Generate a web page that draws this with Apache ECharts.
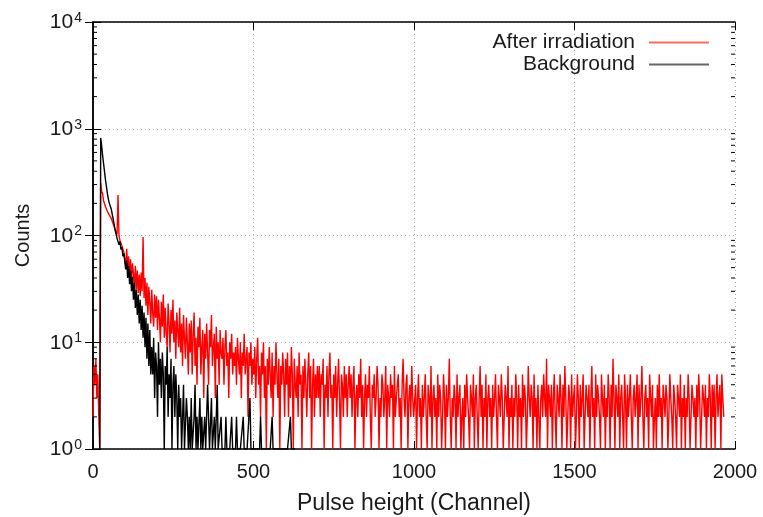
<!DOCTYPE html>
<html>
<head>
<meta charset="utf-8">
<script src="https://cdn.jsdelivr.net/npm/echarts@6/dist/echarts.min.js"></script>
<style>
html,body{margin:0;padding:0;background:#fff;}
#chart{width:763px;height:517px;}
</style>
</head>
<body>
<div id="chart"></div>
<script>
// ---- data (counts per channel, sampled every CHANNEL_STEP channels) ----
const CHANNEL_STEP = 3;
const seriesNames = ['After irradiation', 'Background'];
const xTicks = [0, 500, 1000, 1500, 2000];
const yDecades = [1, 10, 100, 1000, 10000];

const afterCounts = [
2,6,4,7,3,5,2,1,
310,258,246,212,204,186,184,168,166,155,152,144,140,128,124,114,112,102,240,99,90,88,80,78,70,
70,52,75,48,64,42,60,38,55,44,33,52,31,47,29,43,27,45,30,97,26,40,22,36,18,33,24,15,31,19,14,28,17,
27,13,25,17,10,24,14,28,11,21,12,9,23,15,8,20,12,25,10,16,7,19,13,9,21,8,15,6,18,11,7,17,10,5,15,
8,16,5,12,19,6,11,4,14,9,17,5,9,13,3,12,7,15,8,4,13,9,18,6,9,12,3,14,7,10,4,13,8,
7,11,4,9,13,6,8,3,10,7,12,5,8,6,9,4,11,7,5,10,3,8,6,12,5,7,9,2,8,6,10,4,7,
5,9,3,7,11,4,6,2,8,5,10,3,6,1,7,4,9,5,3,8,2,6,4,10,5,3,7,1,6,4,8,5,2,7,
4,8,2,6,3,9,5,1,7,4,3,6,2,8,4,5,1,6,3,7,4,2,5,8,3,6,1,4,7,2,5,3,6,
3,6,2,5,4,7,1,4,3,6,2,5,8,3,4,1,5,3,6,2,4,7,3,1,5,4,2,6,3,5,2,4,6,
3,5,2,4,6,1,3,4,2,5,3,7,2,4,1,3,5,2,4,3,6,2,1,4,3,5,2,3,6,4,1,3,2,5,4,2,3,6,1,4,
3,2,5,3,4,1,6,2,3,4,5,2,3,1,4,7,3,2,4,5,1,3,4,2,6,3,2,
2,4,1,3,5,2,3,1,4,2, 3,5,2,1,4,3,2,6,1,3, 4,2,3,1,5,2,4,3,1,2, 5,3,1,4,2,3,7,2,1,3,
2,4,3,1,5,2,3,4,1,2, 3,1,4,2,5,3,2,1,4,3, 2,5,1,3,4,2,1,3,6,2, 4,1,3,2,5,1,3,4,2,3,
1,4,2,3,5,2,1,4,3,2, 5,3,1,2,4,3,2,6,1,3, 2,4,1,3,2,5,3,1,4,2, 3,1,5,2,4,3,1,2,6,3,
2,4,3,1,5,2,3,1,4,2, 1,3,4,2,5,3,2,7,1,4, 3,2,4,1,3,5,2,1,4,3, 2,5,3,1,4,2,6,3,1,2,
4,3,1,5,2,3,4,1,2,5, 3,1,4,2,3,5,1,2,4,3, 2,4,1,3,6,2,3,1,5,2, 4,3,2,1,5,3,2,4,1,3,
2,5,3,1,4,2,7,3,1,4, 3,2,5,1,3,4,2,1,5,3, 1,4,2,3,5,2,1,3,4,2, 3,5,1,4,2,3,6,2,1,3,
4,2,3,1,5,3,2,4,1,2, 3,1,4,2,5,2,3,1,4,3, 2,4,3,1,2,5,3,2,1,4, 3,2,1,4,3,2,5,1,3,2,
4,1,3,2,5,3,1,2,4,3, 2,3,1,4,2,5,3,1,2,4, 3,2,4,1,3,2,5,3,1,4, 2,4,1,3,5,2,3,4,1,5,
3,2
];

const backgroundCounts = [
null,null,null,null,null,null,null,1,
820,690,560,470,395,330,285,245,218,200,188,176,170,142,140,112,114,94,98,82,88,74,78,64,68,
66,48,58,40,52,35,47,30,41,25,36,21,31,18,28,15,25,13,22,11,19,9,17,7,15,6,13,5,
9,5,11,3,8,6,2,10,4,7,3,8,5,1,6,4,9,2,5,3,7,1,4,6,2,5,3,1,4,2,
3,1,2,4,1,1,3,2,1,2,1,3,1,1,2,4,1,2,1,1,3,1,2,1,1,2,1,1,4,2,1,1,3,1,1,2,1,1,4,1,
1,1,2,1,1,1,1,2,1,1, 1,1,1,2,1,1,1,1,2,1, 1,1,1,1,1,2,1,1,1,1, 1,1,3,1,1,1,1,1,1,1,
1,1,1,2,1,1,1,1,1,1, 1,1,1,1,1,2,1,1,1,1, 1,1,1,1,1,1,1,1,1,1, 1,1,1,1,2,1,1,1,1,1
];

// ---- build ----
const FONT = 'Liberation Sans, Arial, sans-serif';
const TXT = '#1a1a1a';
function toPairs(arr){ return arr.map((v,i)=>[i*CHANNEL_STEP, v===null ? '-' : v]); }
const minorTickValues = [];
for (let d=0; d<yDecades.length-1; d++) for (let m=2; m<=9; m++) minorTickValues.push([xTicks[0], yDecades[d]*m]);

const chart = echarts.init(document.getElementById('chart'), null, {renderer:'canvas'});
const xMin = xTicks[0], xMax = xTicks[xTicks.length-1];
const yMin = yDecades[0], yMax = yDecades[yDecades.length-1];

const baseX = {
  type:'value', min:xMin, max:xMax, interval:500,
  axisLine:{show:true, lineStyle:{color:'#000', width:1.5}},
  axisTick:{show:true, inside:true, length:8, lineStyle:{color:'#000', width:1}},
  splitLine:{show:false}
};
const baseY = {
  type:'log', logBase:10, min:yMin, max:yMax,
  axisLine:{show:true, lineStyle:{color:'#000', width:1.5}},
  axisTick:{show:true, inside:true, length:8, lineStyle:{color:'#000', width:1}},
  splitLine:{show:false}
};

chart.setOption({
  animation:false,
  backgroundColor:'#fff',
  textStyle:{fontFamily:FONT},
  grid:{left:93, right:28, top:22, bottom:68, containLabel:false, outerBoundsMode:'none'},
  legend:{
    data:seriesNames, orient:'vertical', right:49, top:27, align:'right',
    icon:'rect', itemWidth:60, itemHeight:2, itemGap:1,
    itemStyle:{opacity:0.6},
    textStyle:{fontFamily:FONT, fontSize:21, color:TXT, padding:[0,9,0,0]},
    selectedMode:false
  },
  xAxis:[
    Object.assign({}, baseX, {
      position:'bottom',
      name:'Pulse height (Channel)', nameLocation:'middle', nameGap:43,
      nameTextStyle:{fontFamily:FONT, fontSize:23, color:TXT},
      axisLabel:{show:true, margin:13, fontFamily:FONT, fontSize:20, color:TXT,
        formatter:function(v){ return String(v); }},
      splitLine:{show:true, lineStyle:{color:'#b0b0b0', type:[1,3], width:1}}
    }),
    Object.assign({}, baseX, {position:'top', axisLabel:{show:false}})
  ],
  yAxis:[
    Object.assign({}, baseY, {
      position:'left',
      name:'Counts', nameLocation:'middle', nameGap:60,
      nameTextStyle:{fontFamily:FONT, fontSize:20, color:TXT},
      axisLabel:{show:true, margin:11,
        formatter:function(v){ return '{b|10}{s|' + Math.round(Math.log10(v)) + '}'; },
        rich:{
          b:{fontFamily:FONT, fontSize:21, color:TXT, verticalAlign:'bottom'},
          s:{fontFamily:FONT, fontSize:14, color:TXT, verticalAlign:'bottom', padding:[0,0,8,1]}
        }
      },
      splitLine:{show:true, lineStyle:{color:'#b0b0b0', type:[1,3], width:1}}
    }),
    Object.assign({}, baseY, {position:'right', axisLabel:{show:false}})
  ],
  series:[
    {
      name:seriesNames[0], type:'line', xAxisIndex:0, yAxisIndex:0,
      data:toPairs(afterCounts), symbol:'none', showSymbol:false,
      lineStyle:{color:'#ff0000', width:1.4}, itemStyle:{color:'#ff0000'},
      connectNulls:false, z:3
    },
    {
      name:seriesNames[1], type:'line', xAxisIndex:0, yAxisIndex:0,
      data:toPairs(backgroundCounts), symbol:'none', showSymbol:false,
      lineStyle:{color:'#000000', width:1.4}, itemStyle:{color:'#000000'},
      connectNulls:false, z:4
    },
    {
      type:'custom', xAxisIndex:0, yAxisIndex:0, silent:true, z:5,
      data:minorTickValues,
      renderItem:function(params, api){
        const v = api.value(1);
        const pl = api.coord([xMin, v]);
        const pr = api.coord([xMax, v]);
        return {type:'group', children:[
          {type:'line', shape:{x1:pl[0], y1:pl[1], x2:pl[0]+4, y2:pl[1]}, style:{stroke:'#000', lineWidth:1}},
          {type:'line', shape:{x1:pr[0]-4, y1:pr[1], x2:pr[0], y2:pr[1]}, style:{stroke:'#000', lineWidth:1}}
        ]};
      }
    }
  ]
});
</script>
</body>
</html>
